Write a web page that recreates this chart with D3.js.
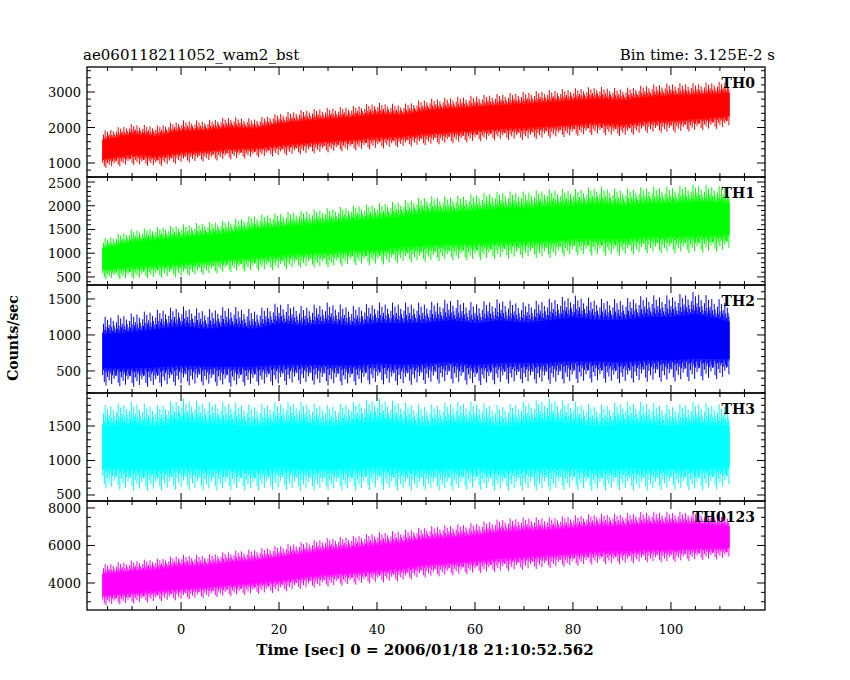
<!DOCTYPE html><html><head><script src="https://cdn.jsdelivr.net/npm/d3@7"></script>
<style>body{margin:0;background:#fff}</style></head><body><svg id="c" width="850" height="680"></svg>
<script>
const times=[-16,-10,-5,0,5,10,15,20,25,30,35,40,45,50,55,60,65,70,75,80,85,90,95,100,105,112];
const names=["TH0","TH1","TH2","TH3","TH0123"];
const colors=["#ff0000","#00ff00","#0000ff","#00ffff","#ff00ff"];
const domains=[[606,3704],[330,2606],[194,1694],[413,1978],[2560,8370]];
const yTicks=[[1000,2000,3000],[500,1000,1500,2000,2500],[500,1000,1500],[500,1000,1500],[4000,6000,8000]];
const yMinorStep=[200,100,100,100,500];
const lows=[
[850,950,900,1000,1050,1100,1150,1200,1250,1300,1350,1400,1450,1500,1550,1600,1650,1650,1700,1750,1800,1750,1850,1850,1900,2000],
[450,450,480,500,550,600,620,650,700,700,750,750,800,820,850,850,880,900,900,950,950,950,1000,1000,1000,1050],
[300,280,280,300,300,280,300,300,320,300,300,320,300,320,330,300,320,330,320,330,340,330,350,350,360,400],
[600,560,560,580,560,570,560,580,560,570,560,580,560,570,560,580,560,570,560,580,560,570,560,580,560,600],
[2800,2900,3000,3100,3200,3300,3400,3500,3700,3800,3900,4000,4100,4300,4400,4500,4600,4700,4800,4900,5000,5000,5100,5100,5200,5300]];
const highs=[
[1900,2100,2050,2200,2200,2300,2250,2400,2500,2550,2600,2700,2650,2800,2850,2900,2950,3000,3050,3100,3150,3100,3200,3250,3250,3300],
[1300,1500,1550,1600,1650,1700,1800,1850,1900,1950,2000,2050,2100,2200,2200,2250,2300,2300,2350,2350,2400,2350,2400,2400,2450,2400],
[1250,1300,1350,1400,1350,1400,1350,1450,1400,1450,1400,1450,1450,1450,1500,1450,1500,1450,1500,1550,1500,1500,1550,1550,1600,1450],
[1800,1850,1800,1900,1850,1850,1800,1850,1850,1800,1850,1900,1850,1800,1850,1850,1800,1850,1900,1850,1800,1850,1850,1800,1850,1800],
[5000,5200,5300,5500,5500,5700,5800,6000,6200,6400,6500,6700,6800,7000,7100,7200,7400,7500,7500,7600,7700,7700,7800,7800,7800,7600]];
// fixed spike-length pattern (fraction of envelope reached), read as typical texture
const spikeUp=[0.55,0.8,0.62,1.0,0.7,0.58,0.9,0.66,0.75,0.6,0.95,0.68,0.57,0.85,0.72,0.63];
const spikeDn=[0.7,0.55,0.9,0.62,1.0,0.6,0.75,0.58,0.85,0.66,0.6,0.95,0.7,0.57,0.8,0.65,0.72];
const svg=d3.select("#c");
const L=87,R=765,tops=[67,177,285,393,501,610];
const x=d3.scaleLinear().domain([-19.2,119.2]).range([L,R]);
const font="'DejaVu Serif',serif";
names.forEach((n,i)=>{
 const y=d3.scaleLinear().domain(domains[i]).range([tops[i+1],tops[i]]);
 const cid="cl"+i;
 svg.append("clipPath").attr("id",cid).append("rect").attr("x",L).attr("y",tops[i]).attr("width",R-L).attr("height",tops[i+1]-tops[i]);
 const g=svg.append("g").attr("clip-path",`url(#${cid})`);
 const data=times.map((t,k)=>{const lo=lows[i][k],hi=highs[i][k],m=(lo+hi)/2,h=(hi-lo)/2;return {t,lo:m-h*0.5,hi:m+h*0.5};});
 g.append("path").datum(data).attr("fill",colors[i])
  .attr("d",d3.area().x(d=>x(d.t)).y0(d=>y(d.lo)).y1(d=>y(d.hi)));
 const sp=[];let c=0;
 for(let k=0;k<times.length-1;k++){const N=Math.round((times[k+1]-times[k])*6);for(let j=0;j<N;j++){const f=j/N;const t=times[k]+(times[k+1]-times[k])*f;
  const lo=lows[i][k]+(lows[i][k+1]-lows[i][k])*f, hi=highs[i][k]+(highs[i][k+1]-highs[i][k])*f;
  const m=(lo+hi)/2,h=(hi-lo)/2;
  sp.push({t,lo:m-h*spikeDn[c%spikeDn.length],hi:m+h*spikeUp[c%spikeUp.length]});c++;}}
 g.selectAll("line.s").data(sp).enter().append("line").attr("stroke",colors[i]).attr("stroke-width",1)
  .attr("x1",d=>x(d.t)).attr("x2",d=>x(d.t)).attr("y1",d=>y(d.lo)).attr("y2",d=>y(d.hi));
 svg.append("rect").attr("x",L).attr("y",tops[i]).attr("width",R-L).attr("height",tops[i+1]-tops[i]).attr("fill","none").attr("stroke","#000").attr("stroke-width",1.3);
 const [d0,d1]=domains[i];
 d3.range(Math.ceil(d0/yMinorStep[i])*yMinorStep[i],d1,yMinorStep[i]).forEach(v=>{
  const major=yTicks[i].includes(v);const len=major?8:4;
  svg.append("line").attr("x1",L).attr("x2",L+len).attr("y1",y(v)).attr("y2",y(v)).attr("stroke","#000");
  svg.append("line").attr("x1",R).attr("x2",R-len).attr("y1",y(v)).attr("y2",y(v)).attr("stroke","#000");
 });
 yTicks[i].forEach(v=>svg.append("text").attr("x",L-6).attr("y",Math.min(Math.max(y(v),tops[i]+6),tops[i+1]-7)+5).attr("text-anchor","end").attr("font-family",font).attr("font-size",13).text(v));
 d3.range(-15,120,5).forEach(v=>{const len=v%20===0?8:4;
  svg.append("line").attr("x1",x(v)).attr("x2",x(v)).attr("y1",tops[i+1]).attr("y2",tops[i+1]-len).attr("stroke","#000");
  svg.append("line").attr("x1",x(v)).attr("x2",x(v)).attr("y1",tops[i]).attr("y2",tops[i]+len).attr("stroke","#000");});
 svg.append("text").attr("x",R-10).attr("y",tops[i]+21).attr("text-anchor","end").attr("font-family",font).attr("font-weight","bold").attr("font-size",14).text(n);
});
[0,20,40,60,80,100].forEach(v=>svg.append("text").attr("x",x(v)).attr("y",634).attr("text-anchor","middle").attr("font-family",font).attr("font-size",13).text(v));
svg.append("text").attr("x",425).attr("y",655).attr("text-anchor","middle").attr("font-family",font).attr("font-weight","bold").attr("font-size",15).text("Time [sec] 0 = 2006/01/18 21:10:52.562");
svg.append("text").attr("x",83).attr("y",60).attr("font-family",font).attr("font-size",15).text("ae060118211052_wam2_bst");
svg.append("text").attr("x",775).attr("y",60).attr("text-anchor","end").attr("font-family",font).attr("font-size",15).text("Bin time: 3.125E-2 s");
svg.append("text").attr("transform","translate(18,338) rotate(-90)").attr("text-anchor","middle").attr("font-family",font).attr("font-weight","bold").attr("font-size",14).text("Counts/sec");
</script></body></html>
